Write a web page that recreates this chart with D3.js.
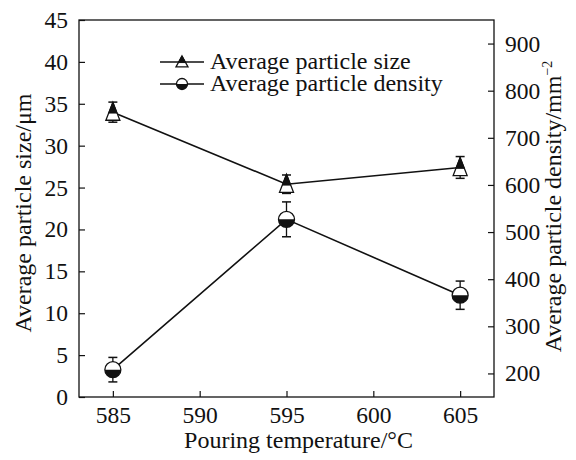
<!DOCTYPE html>
<html>
<head>
<meta charset="utf-8">
<script src="https://cdn.jsdelivr.net/npm/d3@7"></script>
<style>
  body { margin: 0; background: #fff; }
</style>
</head>
<body>
<svg id="chart" width="576" height="460"></svg>
<script>
// data
const temps = [585, 595, 605];
const sizeVals = [34.0, 25.4, 27.4];
const sizeErr = [1.2, 1.1, 1.3];
const densVals = [208, 527, 366];
const densErr = [26, 37, 30];
const xTicks = [585, 590, 595, 600, 605];
const yLeftTicks = [0, 5, 10, 15, 20, 25, 30, 35, 40, 45];
const yRightTicks = [200, 300, 400, 500, 600, 700, 800, 900];

const FONT = '"Liberation Serif"';
const svg = d3.select("#chart");
const margin = { top: 20, right: 82, bottom: 63, left: 79 };
const W = 576, H = 460;
const x0 = margin.left, x1 = W - margin.right;
const y0 = H - margin.bottom, y1 = margin.top;

const x = d3.scaleLinear().domain([583.05, 606.95]).range([x0, x1]);
const yL = d3.scaleLinear().domain([0, 45]).range([y0, y1]);
const yR = d3.scaleLinear().domain([150, 950]).range([y0, y1]);

// --- frame ---
svg.append("rect")
    .attr("x", x0).attr("y", y1)
    .attr("width", x1 - x0).attr("height", y0 - y1)
    .attr("fill", "none").attr("stroke", "#111").attr("stroke-width", 1.3);

// --- axes (inward ticks) ---
const axB = svg.append("g").attr("transform", `translate(0,${y0})`)
    .call(d3.axisBottom(x).tickValues(xTicks).tickSizeInner(-6).tickSizeOuter(0).tickPadding(9));
const axL = svg.append("g").attr("transform", `translate(${x0},0)`)
    .call(d3.axisLeft(yL).tickValues(yLeftTicks).tickSizeInner(-6).tickSizeOuter(0).tickPadding(11));
const axR = svg.append("g").attr("transform", `translate(${x1},0)`)
    .call(d3.axisRight(yR).tickValues(yRightTicks).tickSizeInner(-6).tickSizeOuter(0).tickPadding(11));
[axB, axL, axR].forEach(a => {
    a.select(".domain").remove();
    a.selectAll("line").attr("stroke", "#111").attr("stroke-width", 1.2);
    a.selectAll("text")
        .style("font-family", FONT).style("font-size", "23.5px").attr("fill", "#111");
});

// --- axis titles ---
function label(sel) {
    return sel.style("font-family", FONT).style("font-size", "24px").attr("fill", "#111");
}
label(svg.append("text"))
    .attr("x", (x0 + x1) / 2 + 12).attr("y", 448)
    .attr("text-anchor", "middle")
    .text("Pouring temperature/°C");
label(svg.append("text"))
    .attr("transform", `translate(31,213) rotate(-90)`)
    .attr("text-anchor", "middle")
    .text("Average particle size/μm");
const rt = label(svg.append("text"))
    .attr("transform", `translate(561,${(y0 + y1) / 2 - 2}) rotate(-90)`)
    .attr("text-anchor", "middle");
rt.append("tspan").text("Average particle density/mm");
rt.append("tspan").attr("dy", -9).style("font-size", "14px").text("−2");

// --- marker builders ---
function triangle(g, w, h) {
    const top = -h * 0.55, base = top + h, split = top + h * 0.6;
    const xs = w * (split - top) / h;
    g.append("path")
        .attr("d", `M0,${top}L${w},${base}L${-w},${base}Z`)
        .attr("fill", "#fff").attr("stroke", "#111").attr("stroke-width", 1.3);
    g.append("path")
        .attr("d", `M0,${top}L${xs},${split}L${-xs},${split}Z`)
        .attr("fill", "#111").attr("stroke", "#111").attr("stroke-width", 1);
}
function halfCircle(g, r) {
    g.append("circle").attr("r", r)
        .attr("fill", "#fff").attr("stroke", "#111").attr("stroke-width", 1.3);
    g.append("path")
        .attr("d", `M${-r},0A${r},${r} 0 0 0 ${r},0Z`)
        .attr("fill", "#111");
}

// --- series ---
function drawSeries(vals, errs, yScale, marker) {
    const line = d3.line().x((d, i) => x(temps[i])).y(d => yScale(d));
    svg.append("path").datum(vals)
        .attr("d", line).attr("fill", "none")
        .attr("stroke", "#111").attr("stroke-width", 1.6);
    vals.forEach((v, i) => {
        const cx = x(temps[i]);
        const g = svg.append("g");
        const ya = yScale(v - errs[i]), yb = yScale(v + errs[i]);
        g.append("line").attr("x1", cx).attr("x2", cx).attr("y1", ya).attr("y2", yb)
            .attr("stroke", "#111").attr("stroke-width", 1.3);
        [ya, yb].forEach(yy => g.append("line")
            .attr("x1", cx - 4.5).attr("x2", cx + 4.5).attr("y1", yy).attr("y2", yy)
            .attr("stroke", "#111").attr("stroke-width", 1.5));
        const m = svg.append("g").attr("transform", `translate(${cx},${yScale(v)})`);
        marker(m);
    });
}
drawSeries(sizeVals, sizeErr, yL, g => triangle(g, 7, 18));
drawSeries(densVals, densErr, yR, g => halfCircle(g, 8));

// --- legend ---
const legend = [
    { label: "Average particle size", y: 62, mk: g => triangle(g, 6, 11) },
    { label: "Average particle density", y: 84, mk: g => halfCircle(g, 5.5) }
];
legend.forEach(d => {
    svg.append("line").attr("x1", 160).attr("x2", 204).attr("y1", d.y).attr("y2", d.y)
        .attr("stroke", "#111").attr("stroke-width", 1.6);
    const m = svg.append("g").attr("transform", `translate(182,${d.y})`);
    d.mk(m);
    label(svg.append("text")).attr("x", 210).attr("y", d.y + 7).text(d.label);
});
</script>
</body>
</html>
